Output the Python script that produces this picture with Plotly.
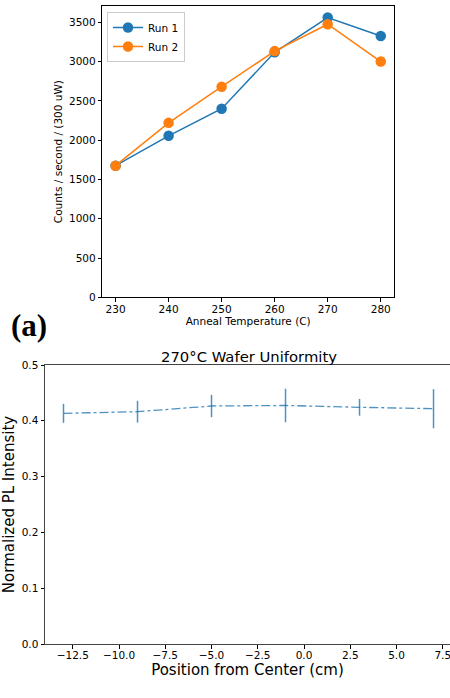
import plotly.graph_objects as go

# Top chart data
anneal_temp = [230, 240, 250, 260, 270, 280]
run1 = [1675, 2055, 2400, 3118, 3560, 3325]
run2 = [1675, 2220, 2680, 3133, 3475, 3000]

# Bottom chart data
position = [-13, -9, -5, -1, 3, 7]
pl_intensity = [0.4134, 0.4163, 0.4265, 0.4275, 0.4242, 0.4217]
pl_error = [0.017, 0.0195, 0.020, 0.030, 0.015, 0.035]

W, H = 450, 698
BLUE = "#1f77b4"
ORANGE = "#ff7f0e"
FONT = "DejaVu Sans"

def px_x(p):
    return p / W

def px_y(p):
    return 1 - p / H

fig = go.Figure()

fig.add_trace(go.Scatter(
    x=anneal_temp, y=run1, name="Run 1", mode="lines+markers",
    line=dict(color=BLUE, width=1.5), marker=dict(size=10.5, color=BLUE),
    xaxis="x", yaxis="y"))
fig.add_trace(go.Scatter(
    x=anneal_temp, y=run2, name="Run 2", mode="lines+markers",
    line=dict(color=ORANGE, width=1.5), marker=dict(size=10.5, color=ORANGE),
    xaxis="x", yaxis="y"))

fig.add_trace(go.Scatter(
    x=position, y=pl_intensity, mode="lines", showlegend=False,
    line=dict(color="rgba(31,119,180,0.8)", width=1.3, dash="dashdot"),
    error_y=dict(type="data", array=pl_error, visible=True, width=0,
                 thickness=1.5, color="rgba(31,119,180,0.8)"),
    xaxis="x2", yaxis="y2"))

axis_common = dict(showgrid=False, zeroline=False, ticks="outside", ticklen=3.5,
                   tickwidth=1, tickcolor="black", showline=True, mirror=True,
                   linecolor="black", linewidth=1, automargin=False,
                   ticklabeloverflow="allow")

fig.update_layout(
    width=W, height=H,
    margin=dict(l=0, r=0, t=0, b=0),
    paper_bgcolor="white", plot_bgcolor="white",
    font=dict(family=FONT, color="black"),
    xaxis=dict(domain=[px_x(102.3), px_x(394)], range=[227.5, 282.5],
               tickvals=anneal_temp, tickfont=dict(size=10.5), anchor="y",
               ticklabelstandoff=-1,
               title=dict(text="Anneal Temperature (C)", font=dict(size=10.5), standoff=2),
               **axis_common),
    yaxis=dict(domain=[px_y(297.3), px_y(6)], range=[0, 3707],
               tickvals=[0, 500, 1000, 1500, 2000, 2500, 3000, 3500],
               tickfont=dict(size=10.5), anchor="x",
               title=dict(text="Counts / second / (300 uW)", font=dict(size=10.5), standoff=4),
               **axis_common),
    xaxis2=dict(domain=[px_x(45), 1.0], range=[-14, 7.89],
                tickvals=[-12.5, -10, -7.5, -5, -2.5, 0, 2.5, 5, 7.5],
                tickformat=".1f", tickfont=dict(size=10.5), anchor="y2",
                ticklabelstandoff=-2,
                title=dict(text="Position from Center (cm)", font=dict(size=15), standoff=3),
                **{**axis_common, "linecolor": "#444"}),
    yaxis2=dict(domain=[px_y(644), px_y(365)], range=[0, 0.5],
                tickvals=[0, 0.1, 0.2, 0.3, 0.4, 0.5], tickformat=".1f",
                tickfont=dict(size=10.5), anchor="x2",
                title=dict(text="Normalized PL Intensity", font=dict(size=15), standoff=5),
                **{**axis_common, "linecolor": "#444"}),
    legend=dict(x=px_x(107), y=px_y(12), xanchor="left", yanchor="top",
                bgcolor="white", bordercolor="#cccccc", borderwidth=1,
                font=dict(size=10.5), tracegroupgap=0, itemwidth=30),
    showlegend=True,
)

fig.add_annotation(text="270°C Wafer Uniformity", x=px_x(249), y=px_y(356),
                   xref="paper", yref="paper", showarrow=False,
                   font=dict(size=14.8, family=FONT), xanchor="center", yanchor="middle")
fig.add_annotation(text="<b>(a)</b>", x=px_x(29), y=px_y(325),
                   xref="paper", yref="paper", showarrow=False,
                   font=dict(size=31, family="Liberation Serif"),
                   xanchor="center", yanchor="middle")

fig.write_html("out.html")
